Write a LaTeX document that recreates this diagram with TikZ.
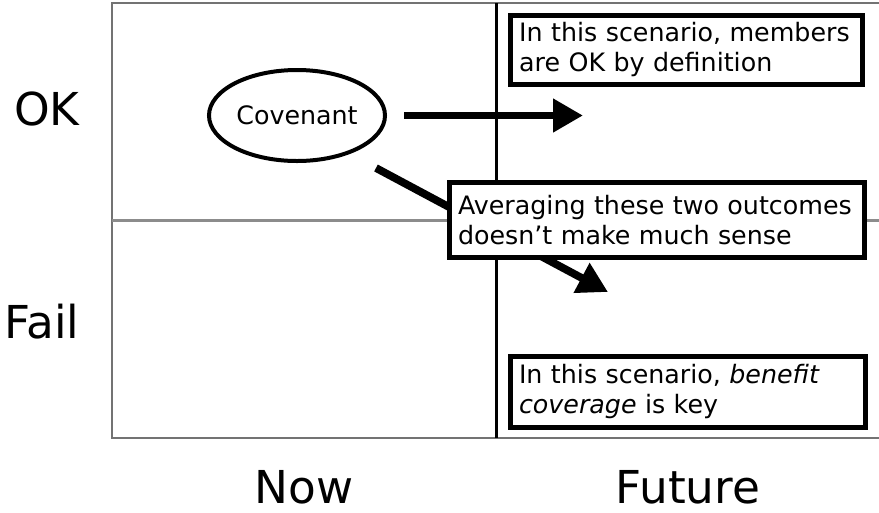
\documentclass[tikz,border=0pt]{standalone}
\usepackage{fontspec}
\setmainfont{DejaVu Sans}
\usepackage{xcolor}
\usepackage{tikz}
\usetikzlibrary{arrows.meta, shapes.geometric, positioning}

\definecolor{framegray}{gray}{0.45}
\definecolor{divgray}{gray}{0.55}

\begin{document}
\begin{tikzpicture}[x=0.75pt,y=0.75pt,yscale=-1,xscale=1,
  textbox/.style={draw, line width=3.6pt, fill=white, align=left, inner xsep=6.5pt, inner ysep=0pt, font=\fontsize{19}{22.5}\selectfont},
  biglabel/.style={anchor=base, inner sep=0pt, font=\fontsize{34}{40}\selectfont},
  bigarrow/.style={line width=5.8pt, -{Triangle[length=22.5pt,width=24pt]}}]
\useasboundingbox (0,0) rectangle (879,512);

%Shape: Frame
\draw [color=framegray, line width=1.1pt]  (879,3) -- (112,3) -- (112,438) -- (879,438) ;
%Straight Lines: OK / Fail divider
\draw [color=divgray, line width=2.25pt]  (112,220) -- (879,220) ;
%Straight Lines: Now / Future divider
\draw [line width=2.25pt]  (496,3) -- (496,438) ;

%Shape: Ellipse
\node (cov) [ellipse, draw, line width=3pt, minimum width=132pt, minimum height=68.25pt, inner sep=0pt, font=\fontsize{19}{22.5}\selectfont] at (297,115.5) {Covenant};

\coordinate (okend) at (583,115.5);
\coordinate (failstart) at (376,168);
\coordinate (failend) at (608,292);

%Arrows
\draw [bigarrow, shorten <=12.75pt]  (cov.east) -- (okend) ;
\draw [bigarrow]  (failstart) -- (failend) ;

% Text Node
\node (okbox) [textbox, minimum width=264pt, minimum height=52pt, text width=251pt] at (686.5,50) {In this scenario, members\\are OK by definition};
% Text Node
\node (avgbox) [textbox, minimum width=311.5pt, minimum height=56.5pt, text width=298.5pt] at (657,220) {Averaging these two outcomes\\doesn’t make much sense};
% Text Node
\node (failbox) [textbox, minimum width=266.5pt, minimum height=53.5pt, text width=253.5pt] at (688,392) {In this scenario, \textit{benefit}\\\textit{coverage} is key};

% Text Node
\node (ok) [biglabel] at (47,125) {OK};
% Text Node
\node (fail) [biglabel] at (42,338) {Fail};
% Text Node
\node (now) [biglabel] at (304,503) {Now};
% Text Node
\node (future) [biglabel] at (688,503) {Future};

\end{tikzpicture}
\end{document}
